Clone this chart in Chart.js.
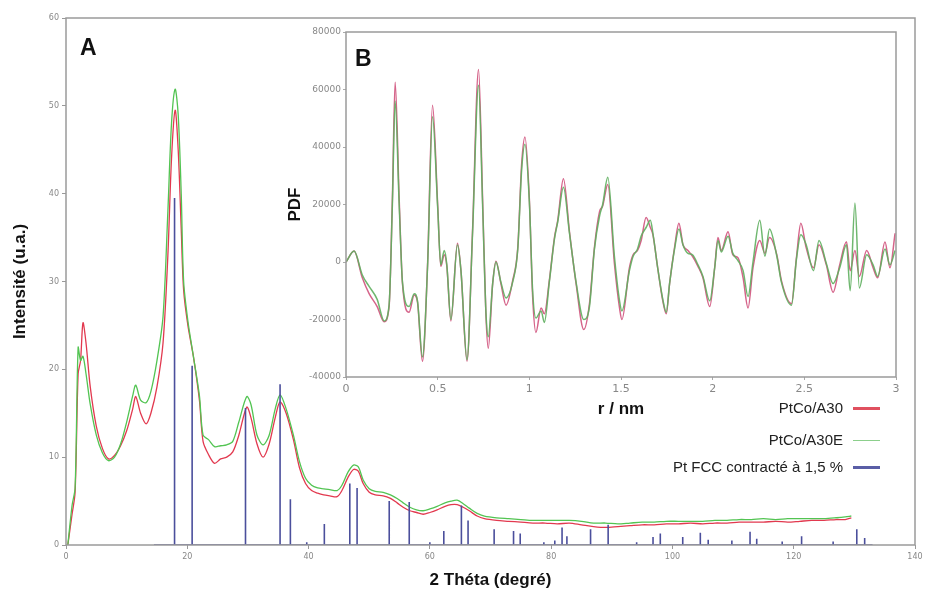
<!DOCTYPE html>
<html>
<head>
<meta charset="utf-8">
<script src="https://cdn.jsdelivr.net/npm/chart.js@4.4.1/dist/chart.umd.min.js"></script>
<style>
body { margin: 0; background: #fff; }
#wrap { position: relative; width: 927px; height: 595px; overflow: hidden; font-family: "Liberation Sans", Arial, sans-serif; }
#mainChart { position: absolute; left: 0; top: 0; }
#insetChart { position: absolute; left: 280px; top: 22px; }
.tag { position: absolute; font-weight: bold; font-size: 23px; color: #111; line-height: 24px; }
.leg { position: absolute; right: 84px; font-size: 15px; color: #222; white-space: nowrap; line-height: 18px; }
.legLine { position: absolute; left: 853px; width: 27px; }
</style>
</head>
<body>
<div id="wrap">
	<canvas id="mainChart" width="927" height="595"></canvas>
	<canvas id="insetChart" width="635" height="405"></canvas>
	<div class="tag" style="left:80px;top:35px;">A</div>
	<div class="tag" style="left:355px;top:46px;">B</div>
	<div class="leg" style="top:399px;">PtCo/A30</div>
	<div class="legLine" style="top:407px;height:3px;background:#e0505f;"></div>
	<div class="leg" style="top:431px;">PtCo/A30E</div>
	<div class="legLine" style="top:440px;height:1px;background:#8ccf8c;"></div>
	<div class="leg" style="top:458px;">Pt FCC contracté à 1,5 %</div>
	<div class="legLine" style="top:466px;height:3px;background:#5a5ea6;"></div>
</div>
<script>
// diffractogramme (A)
var twoTheta = [0.3, 1.0, 1.5, 2.0, 2.4, 2.8, 3.3, 4.0, 5.0, 6.0, 7.0, 8.0, 9.0, 10.0, 11.0, 11.5, 12.3, 13.2, 14.0, 15.0,
	16.0, 16.8, 17.4, 18.0, 18.5, 19.0, 19.4, 20.1, 21.0, 22.0, 22.6, 23.5, 24.5, 25.5, 26.5, 27.5, 28.5, 29.8, 30.5, 31.5,
	32.5, 33.5, 34.5, 35.3, 36.3, 37.5, 38.5, 39.5, 40.5, 41.5, 42.5, 43.5, 44.7, 45.5, 46.5, 47.4, 48.2, 49.0, 50.0, 51.0,
	52.3, 53.5, 54.6, 55.6, 56.7, 57.8, 58.9, 60.0, 61.2, 62.5, 63.5, 64.5, 65.5, 66.5, 67.8, 69.0, 71.0, 73.0, 75.0, 77.0,
	79.0, 81.0, 83.0, 85.0, 87.0, 89.0, 91.0, 93.0, 95.0, 97.0, 99.0, 101.0, 103.0, 105.0, 107.0, 109.0, 111.0, 113.0, 115.0, 117.0,
	119.0, 121.0, 123.0, 125.0, 127.0, 128.5, 129.5];
var intensA30 = [0, 3.5, 6, 19.5, 21, 25.3, 23, 18, 13.5, 11, 9.8, 10.2, 11.3, 13, 15.5, 16.9, 15, 13.8, 15, 18,
	23, 33, 44, 49.5, 45, 36, 29, 25, 21.5, 16.5, 11.8, 10.3, 9.3, 9.8, 10, 10.6, 12.5, 15.7, 14.5, 11.5,
	10.0, 11.5, 14.5, 16.3, 15, 12, 8.8, 7.0, 6.2, 5.9, 5.7, 5.6, 5.5, 6.2, 7.7, 8.6, 8.4, 7, 6.0, 5.7,
	5.6, 5.3, 4.8, 4.3, 3.9, 3.7, 3.5, 3.7, 4.0, 4.4, 4.6, 4.6, 4.3, 3.9, 3.3, 3.0, 2.8, 2.7, 2.6, 2.5,
	2.5, 2.4, 2.5, 2.3, 2.1, 2.0, 2.1, 2.2, 2.3, 2.3, 2.4, 2.4, 2.5, 2.4, 2.5, 2.5, 2.6, 2.6, 2.6, 2.7,
	2.6, 2.7, 2.8, 2.8, 2.9, 2.9, 3.1];
var intensA30E = [0, 4.5, 6.5, 22.5, 21, 21.5, 19.5, 16, 12.5, 10.5, 9.6, 10, 11.5, 14, 17, 18.2, 16.5, 16.2, 17.5, 21,
	26, 38, 48, 51.9, 49, 40, 30, 25.5, 21.5, 17, 12.5, 12, 11.2, 11.3, 11.4, 11.8, 14, 16.9, 16, 12.5,
	11.4, 12.5, 15.5, 17.1, 15.5, 12.5, 9.5, 7.6, 6.8, 6.5, 6.4, 6.3, 6.2, 6.8, 8.3, 9.1, 8.9, 7.4, 6.4, 6.1,
	6.0, 5.7, 5.3, 4.8, 4.3, 4.0, 3.9, 4.1, 4.4, 4.8, 5.0, 5.1, 4.7, 4.2, 3.6, 3.3, 3.1, 3.0, 2.9, 2.8,
	2.8, 2.8, 2.8, 2.7, 2.5, 2.5, 2.4, 2.5, 2.6, 2.6, 2.7, 2.7, 2.7, 2.7, 2.8, 2.8, 2.9, 2.9, 3.0, 2.9,
	3.0, 3.0, 3.0, 3.0, 3.1, 3.2, 3.3];
// raies Pt FCC contracté
var fccPos = [14.5, 17.9, 20.8, 29.6, 35.3, 37.0, 39.7, 42.6, 46.8, 48.0, 53.3, 56.6, 60.0, 62.3, 65.2, 66.3, 70.6, 73.8, 74.9,
	78.8, 80.6, 81.8, 82.6, 86.5, 89.4, 94.1, 96.8, 98.0, 101.7, 104.6, 105.9, 109.8, 112.8, 113.9, 118.1, 121.3, 126.5,
	130.4, 131.7, 133.0];
var fccHeight = [0, 39.5, 20.4, 15.6, 18.3, 5.2, 0.3, 2.4, 7.0, 6.5, 5.0, 4.9, 0.3, 1.6, 4.5, 2.8, 1.8, 1.6, 1.3,
	0.3, 0.5, 2.0, 1.0, 1.8, 2.3, 0.3, 0.9, 1.3, 0.9, 1.4, 0.6, 0.5, 1.5, 0.7, 0.4, 1.0, 0.4,
	1.8, 0.8, 0];
var mainXTicks = [0, 20, 40, 60, 80, 100, 120, 140];

// PDF (B)
var rNm = [0.000, 0.044, 0.089, 0.126, 0.170, 0.208, 0.235, 0.253, 0.268, 0.290, 0.308, 0.344, 0.372, 0.390, 0.417, 0.445,
	0.472, 0.500, 0.517, 0.536, 0.550, 0.572, 0.608, 0.627, 0.660, 0.690, 0.723, 0.745, 0.763, 0.776, 0.800, 0.818,
	0.845, 0.873, 0.909, 0.937, 0.958, 0.976, 1.000, 1.018, 1.036, 1.064, 1.082, 1.109, 1.137, 1.155, 1.186, 1.219,
	1.255, 1.297, 1.328, 1.355, 1.383, 1.400, 1.428, 1.464, 1.492, 1.505, 1.546, 1.566, 1.590, 1.610, 1.637, 1.660,
	1.674, 1.700, 1.728, 1.747, 1.765, 1.792, 1.816, 1.838, 1.865, 1.890, 1.920, 1.947, 1.984, 2.011, 2.029, 2.047,
	2.084, 2.110, 2.138, 2.166, 2.193, 2.220, 2.257, 2.285, 2.310, 2.350, 2.375, 2.430, 2.457, 2.481, 2.510, 2.550,
	2.580, 2.620, 2.657, 2.693, 2.730, 2.750, 2.776, 2.800, 2.840, 2.875, 2.900, 2.940, 2.967, 2.995];
var pdfA30 = [0, 3800, -5500, -11000, -15500, -20800, -15500, 22000, 62500, 22000, -7500, -17500, -11500, -14000, -34500, -700,
	54500, 20000, -1500, 2500, -1500, -20500, 6500, -3000, -34500, 10500, 67000, 22000, -18000, -30000, -7500, 300,
	-7500, -15000, -6500, 5000, 34000, 43500, 22000, -12000, -24500, -16000, -18000, -6500, 8500, 14500, 29000, 10500,
	-7500, -23500, -14500, 5000, 17500, 19500, 27000, -500, -16000, -20000, -2000, 2500, 4000, 7500, 15500, 12000,
	9500, -2000, -13500, -18000, -7500, 5000, 13500, 6000, 4000, 2000, -1500, -5500, -15500, -2000, 8500, 4000,
	10500, 2500, 1500, -5500, -16000, -2000, 7500, 3000, 8500, 2500, -6500, -14500, 1500, 13500, 5000, -2000,
	6000, -1000, -10500, -1000, 7000, -3000, 4000, -5000, 4000, -2000, -5500, 7000, -2000, 10000];
var pdfA30E = [0, 3800, -4500, -8500, -13000, -20500, -15000, 20000, 56000, 20000, -7000, -15500, -11000, -13500, -33000, -1500,
	50500, 19000, -1000, 4000, -1000, -20000, 6000, -3000, -34000, 9500, 61500, 20000, -17000, -26000, -7500, 0,
	-7000, -12500, -7000, 4500, 32000, 41000, 21000, -10000, -19500, -17000, -21000, -7000, 8000, 14000, 26000, 10000,
	-7000, -20000, -15500, 4500, 16000, 20000, 29500, 2000, -13500, -17000, -3000, 2000, 4500, 9000, 12000, 14500,
	10000, -2000, -13000, -17500, -7500, 4500, 11500, 6000, 3000, 2500, -1000, -5000, -13500, -2000, 7500, 3500,
	9000, 3000, 500, -3000, -12000, 0, 14500, 2000, 11500, 2000, -7000, -15000, 1000, 9500, 6000, -3000,
	7500, -500, -7500, -2000, 6000, -10000, 20500, -9000, 2500, -1000, -5000, 4500, -1000, 4000];
var insetXTicks = [0, 0.5, 1, 1.5, 2, 2.5, 3];

function toPoints(xs, ys) {
	var pts = [];
	for (var i = 0; i < xs.length; i++) {
		pts.push({ x : xs[i], y : ys[i] });
	}
	return pts;
}
function stickPoints(pos, h) {
	var pts = [];
	for (var i = 0; i < pos.length; i++) {
		pts.push({ x : pos[i], y : 0 });
		pts.push({ x : pos[i], y : h[i] });
		pts.push({ x : pos[i], y : 0 });
	}
	return pts;
}

var frameBox = {
	id : 'frameBox',
	beforeDatasetsDraw : function(chart) {
		var a = chart.chartArea, ctx = chart.ctx;
		ctx.save();
		ctx.fillStyle = '#fff';
		ctx.fillRect(a.left, a.top, a.right - a.left, a.bottom - a.top);
		ctx.restore();
	},
	afterDraw : function(chart) {
		var a = chart.chartArea, ctx = chart.ctx;
		ctx.save();
		ctx.strokeStyle = '#9a9a9a';
		ctx.lineWidth = 1.5;
		ctx.strokeRect(a.left, a.top, a.right - a.left, a.bottom - a.top);
		ctx.restore();
	}
};

function fixedTicks(list) {
	return function(scale) {
		scale.ticks = list.map(function(v) { return { value : v }; });
	};
}

var mainConfig = {
	type : 'line',
	data : {
		datasets : [ {
			label : 'Pt FCC contracté à 1,5 %',
			data : stickPoints(fccPos, fccHeight),
			borderColor : '#4b4f9c',
			borderWidth : 1.6,
			pointRadius : 0,
			tension : 0
		}, {
			label : 'PtCo/A30E',
			data : toPoints(twoTheta, intensA30E),
			borderColor : '#52c452',
			borderWidth : 1.3,
			pointRadius : 0,
			tension : 0.3
		}, {
			label : 'PtCo/A30',
			data : toPoints(twoTheta, intensA30),
			borderColor : '#e2394f',
			borderWidth : 1.3,
			pointRadius : 0,
			tension : 0.3
		} ]
	},
	options : {
		responsive : false,
		animation : false,
		layout : { padding : { top : 18, right : 12, left : 0, bottom : 0 } },
		plugins : { legend : { display : false }, tooltip : { enabled : false } },
		scales : {
			x : {
				type : 'linear', min : 0, max : 140,
				afterBuildTicks : fixedTicks(mainXTicks),
				afterFit : function(s) { s.height = 50; },
				grid : { drawOnChartArea : false, tickLength : 4, color : '#999' },
				border : { display : false },
				ticks : { font : { family : 'DejaVu Sans', size : 8 }, color : '#888', padding : 3, maxRotation : 0,
					callback : function(v) { return String(v); } },
				title : { display : true, text : '2 Théta (degré)', color : '#111',
					font : { family : 'Liberation Sans', size : 17, weight : 'bold' }, padding : { top : 0, bottom : 4 } }
			},
			y : {
				min : 0, max : 60,
				ticks : { stepSize : 10, font : { family : 'DejaVu Sans', size : 8 }, color : '#888', padding : 3,
					callback : function(v) { return String(v); } },
				afterFit : function(s) { s.width = 66; },
				grid : { drawOnChartArea : false, tickLength : 4, color : '#999' },
				border : { display : false },
				title : { display : true, text : 'Intensité (u.a.)', color : '#111',
					font : { family : 'Liberation Sans', size : 17, weight : 'bold' }, padding : { top : 10, bottom : 0 } }
			}
		}
	},
	plugins : [ frameBox ]
};

var insetConfig = {
	type : 'line',
	data : {
		datasets : [ {
			label : 'PtCo/A30E',
			data : toPoints(rNm, pdfA30E),
			borderColor : 'rgba(95,175,95,0.9)',
			borderWidth : 1.5,
			pointRadius : 0,
			cubicInterpolationMode : 'monotone'
		}, {
			label : 'PtCo/A30',
			data : toPoints(rNm, pdfA30),
			borderColor : '#d5648a',
			borderWidth : 1.5,
			pointRadius : 0,
			cubicInterpolationMode : 'monotone'
		} ]
	},
	options : {
		responsive : false,
		animation : false,
		layout : { padding : { top : 10, right : 19, left : 0, bottom : 0 } },
		plugins : { legend : { display : false }, tooltip : { enabled : false } },
		scales : {
			x : {
				type : 'linear', min : 0, max : 3,
				afterBuildTicks : fixedTicks(insetXTicks),
				afterFit : function(s) { s.height = 50; },
				grid : { drawOnChartArea : false, tickLength : 3, color : '#aaa' },
				border : { display : false },
				ticks : { font : { family : 'DejaVu Sans', size : 11 }, color : '#888', padding : 3, maxRotation : 0,
					callback : function(v) { return String(v); } },
				title : { display : true, text : 'r / nm', color : '#111',
					font : { family : 'Liberation Sans', size : 17, weight : 'bold' }, padding : { top : 0, bottom : 7 } }
			},
			y : {
				min : -40000, max : 80000,
				ticks : { stepSize : 20000, font : { family : 'DejaVu Sans', size : 9 }, color : '#888', padding : 2,
					callback : function(v) { return String(v); } },
				afterFit : function(s) { s.width = 66; },
				grid : { drawOnChartArea : false, tickLength : 3, color : '#aaa' },
				border : { display : false },
				title : { display : true, text : 'PDF', color : '#111',
					font : { family : 'Liberation Sans', size : 17, weight : 'bold' }, padding : { top : 5, bottom : 0 } }
			}
		}
	},
	plugins : [ frameBox ]
};

new Chart(document.getElementById('mainChart').getContext('2d'), mainConfig);
new Chart(document.getElementById('insetChart').getContext('2d'), insetConfig);
</script>
</body>
</html>
